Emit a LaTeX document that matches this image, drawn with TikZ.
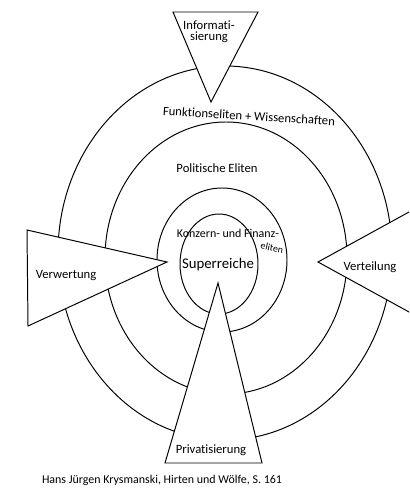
\documentclass[tikz,border=0pt]{standalone}
\usepackage{fontspec}
\setmainfont{Carlito}[Ligatures=NoCommon]
\begin{document}
\begin{tikzpicture}[x=0.025cm,y=-0.025cm,line width=0.7pt]
\tikzset{wedge/.style={draw,fill=white,line join=miter},
 lbl/.style={inner sep=1pt,align=center,font=\fontsize{9}{10}\selectfont}}
\useasboundingbox (0,0) rectangle (409,490);
\clip (0,0) rectangle (409,490);

\draw (219,264) ellipse [x radius=39, y radius=50];
\draw (222,260) ellipse [x radius=65, y radius=72];
\draw (226,258) ellipse [x radius=121, y radius=136];
\draw (225,253) ellipse [x radius=167, y radius=187];

\coordinate (top1) at (173,12);
\coordinate (top2) at (258,12);
\coordinate (topA) at (211,102);
\coordinate (lft1) at (27,230);
\coordinate (lftA) at (167,262);
\coordinate (lft2) at (28,326);
\coordinate (rgtA) at (318,262);
\coordinate (rgt1) at (440,195);
\coordinate (rgt2) at (440,329);
\coordinate (botA) at (218,283);
\coordinate (bot1) at (165,463);
\coordinate (bot2) at (262,463);

\draw[wedge] (top1) -- (top2) -- (topA) -- cycle;
\draw[wedge] (lft1) -- (lftA) -- (lft2) -- cycle;
\draw[wedge] (rgt1) -- (rgtA) -- (rgt2);
\draw[wedge] (botA) -- (bot2) -- (bot1) -- cycle;

\node[lbl] (info) at (209,32) {Informati-\\[-2pt]sierung};
\node[lbl,rotate=-3.5] (funk) at (249,116) {Funktionseliten + Wissenschaften};
\node[lbl] (polit) at (217,168) {Politische Eliten};
\node[lbl,font=\fontsize{8.5}{9}\selectfont] (konz) at (228,233) {Konzern- und Finanz-};
\node[lbl,font=\fontsize{7}{8}\selectfont,rotate=-12] (konz2) at (272,248) {eliten};
\node[lbl,font=\fontsize{10.5}{12}\selectfont] (super) at (218,265) {Superreiche};
\node[lbl] (verw) at (66,276) {Verwertung};
\node[lbl] (vert) at (370,267) {Verteilung};
\node[lbl] (priv) at (211,450) {Privatisierung};
\node[lbl,font=\fontsize{8.5}{9}\selectfont] (quelle) at (162,480) {Hans Jürgen Krysmanski, Hirten und Wölfe, S. 161};
\end{tikzpicture}
\end{document}
